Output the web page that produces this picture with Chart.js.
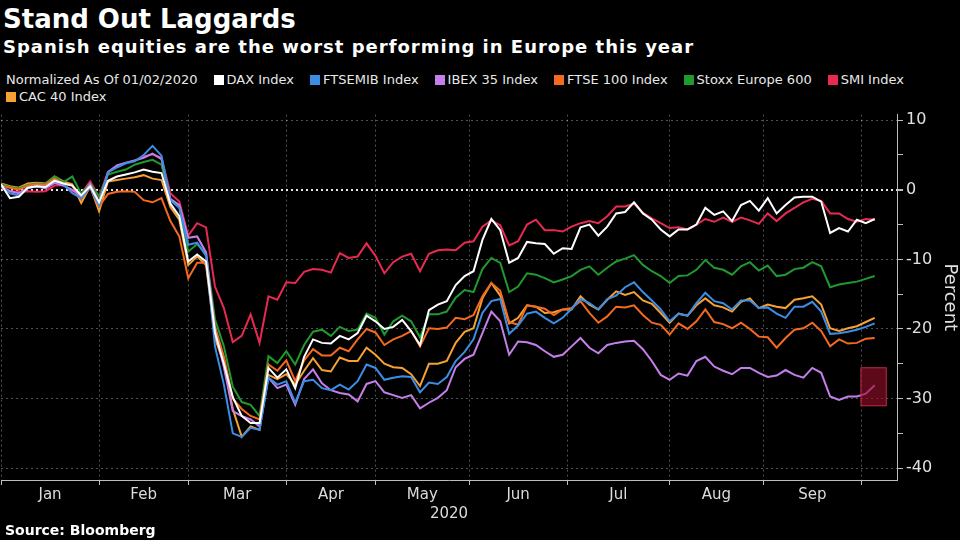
<!DOCTYPE html>
<html>
<head>
<meta charset="utf-8">
<title>Stand Out Laggards</title>
<script src="https://cdn.jsdelivr.net/npm/chart.js@4.4.1/dist/chart.umd.min.js"></script>
<style>
  html, body { margin: 0; padding: 0; background: #000; }
  body { width: 960px; height: 540px; position: relative; overflow: hidden;
         font-family: "DejaVu Sans", sans-serif; color: #fff; }
  #title { position: absolute; left: 3px; top: 4px; font-size: 26px; font-weight: bold; line-height: 30px; }
  #subtitle { position: absolute; left: 3px; top: 36px; font-size: 18px; font-weight: bold; line-height: 22px; letter-spacing: 1px; }
  #legend { position: absolute; left: 6px; top: 71px; width: 940px; font-size: 13px; line-height: 17px; color: #e8e8e8; }
  #legend span { display: inline-block; margin-right: 16px; white-space: nowrap; }
  #legend i { display: inline-block; width: 10px; height: 10px; margin-right: 3px; vertical-align: -1px; }
  #chartBox { position: absolute; left: 0; top: 102px; width: 960px; height: 424px; }
  #source { position: absolute; left: 5px; top: 522px; font-size: 14px; font-weight: bold; line-height: 17px; }
</style>
</head>
<body>
<div id="title">Stand Out Laggards</div>
<div id="subtitle">Spanish equities are the worst performing in Europe this year</div>
<div id="legend"></div>
<div id="chartBox"><canvas id="chart" width="960" height="424"></canvas></div>
<div id="source">Source: Bloomberg</div>
<script>
// trading-day index since 01/02/2020 (every second session)
const tradingDays = [0, 2, 4, 6, 8, 10, 12, 14, 16, 18, 20, 22, 24, 26, 28, 30, 32, 34, 36, 38,
  40, 42, 44, 46, 48, 50, 52, 54, 56, 58, 60, 62, 64, 66, 68, 70, 72, 74, 76, 78,
  80, 82, 84, 86, 88, 90, 92, 94, 96, 98, 100, 102, 104, 106, 108, 110, 112, 114, 116, 118,
  120, 122, 124, 126, 128, 130, 132, 134, 136, 138, 140, 142, 144, 146, 148, 150, 152, 154, 156, 158,
  160, 162, 164, 166, 168, 170, 172, 174, 176, 178, 180, 182, 184, 186, 188, 190, 192, 194, 196];

const daxIndex = [0.8, -1.2, -1.0, 0.3, 0.5, 0.4, 1.3, 0.9, 0.6, -0.8, 0.5, -1.8, 1.3, 1.9, 2.2,
  2.5, 2.9, 2.6, 2.4, -2.0, -3.8, -10.3, -9.3, -10.3,
  -20.5, -25.0, -29.8, -32.5, -33.5, -33.5, -25.6, -27.0, -25.8, -28.5, -24.0,
  -21.5, -22.0, -22.1, -21.0, -21.5, -20.6, -18.1, -18.9, -20.0, -19.7, -18.7, -20.3, -22.3, -17.3, -16.5, -16.0,
  -13.7, -12.4, -11.7, -7.2, -4.2, -5.8, -10.5, -9.8, -7.5, -7.7, -7.8, -9.2, -8.4, -8.5, -5.4, -5.0, -6.6, -5.3, -3.4, -3.2, -1.8,
  -3.4, -4.3, -5.7, -6.7, -5.7, -5.7, -5.0, -2.6, -3.6, -3.1, -4.5, -2.2, -1.6, -3.0, -1.2, -3.4, -2.2, -1.1, -1.0, -1.0, -1.7, -6.2, -5.5, -6.0, -4.3, -4.8, -4.2];

const ftsemibIndex = [0.6, -0.5, -0.8, 0.2, 0.5, 0.4, 1.3, 0.8, -0.5, -1.2, 0.4, -2.2, 2.5, 3.2, 3.8,
  4.1, 5.0, 6.3, 4.9, -1.5, -2.6, -7.9, -7.6, -9.5,
  -22.5, -28.0, -35.0, -35.5, -34.2, -34.5, -27.0, -28.0, -27.5, -30.6, -27.5,
  -27.3, -28.5, -28.8, -28.0, -28.7, -27.5, -25.1, -25.6, -27.3, -27.0, -26.8, -26.9, -29.1, -27.7, -27.9, -26.9,
  -24.6, -23.3, -21.5, -17.7, -16.0, -15.7, -20.7, -19.5, -17.8, -17.5, -18.4, -19.2, -18.4, -17.1, -15.7, -16.3, -17.2, -15.7, -15.2, -14.0, -13.3,
  -14.7, -15.9, -17.2, -18.9, -17.8, -18.1, -16.3, -14.8, -16.0, -16.3, -17.2, -15.9, -15.9, -17.0, -16.9, -17.8, -18.4, -16.8, -16.8, -16.1, -17.5, -20.7, -20.6, -20.4, -20.1, -19.7, -19.2];

const ibexIndex = [0.5, -0.2, -0.5, 0.3, 0.5, 0.2, 1.0, 0.6, 0.0, -0.9, 0.8, -1.8, 2.5, 3.5, 3.9,
  4.2, 4.6, 5.2, 4.4, -1.3, -2.2, -6.9, -6.7, -9.0,
  -20.2, -25.5, -31.8, -32.5, -33.0, -34.0, -27.0, -28.5, -28.0, -30.9, -27.2,
  -25.8, -27.8, -28.8, -29.2, -29.4, -30.4, -27.9, -27.5, -29.1, -29.5, -29.9, -29.5, -31.4, -30.6, -29.9, -28.8,
  -25.5, -24.3, -23.7, -20.6, -17.5, -18.9, -23.7, -21.8, -21.9, -22.3, -23.2, -24.0, -23.7, -22.5, -21.3, -22.7, -23.5, -22.3, -22.0, -21.8, -21.7,
  -22.9, -24.6, -26.6, -27.3, -26.4, -26.7, -24.6, -24.0, -25.4, -26.0, -26.5, -25.6, -25.6, -26.3, -26.9, -26.7, -25.9, -26.6, -27.0, -25.6, -26.3, -29.7, -30.2, -29.7, -29.7, -29.3, -28.1];

const ftseIndex = [0.6, 0.3, 0.0, 0.6, 0.8, 0.7, 1.6, 0.9, 0.6, -1.3, 0.3, -2.4, -0.6, -0.3, -0.2,
  -0.3, -1.5, -1.8, -1.2, -4.5, -6.7, -12.7, -10.5, -10.5,
  -19.6, -24.0, -30.0, -31.5, -32.5, -33.0, -25.1, -26.0, -24.5, -27.5, -24.5,
  -22.9, -23.8, -23.8, -22.7, -23.2, -21.5, -20.0, -20.5, -22.3, -21.5, -21.0, -20.3, -22.5, -19.9, -20.0, -19.8,
  -18.4, -18.6, -18.0, -15.3, -13.4, -14.5, -19.0, -19.4, -16.6, -16.8, -17.1, -18.0, -17.2, -17.0, -16.0, -17.7, -19.1, -18.2, -16.8, -16.9, -16.6,
  -18.0, -19.1, -19.4, -20.8, -19.2, -20.0, -18.9, -17.2, -19.0, -19.3, -19.9, -19.1, -20.0, -21.1, -21.2, -22.7, -21.3, -20.1, -19.9, -19.1, -20.3, -22.5, -21.5, -22.1, -22.0, -21.4, -21.3];

const stoxxIndex = [0.8, 0.4, 0.2, 0.7, 0.9, 0.8, 1.9, 1.1, 1.9, -0.6, 0.9, -1.0, 2.2, 2.6, 2.9,
  3.6, 4.0, 4.3, 3.6, -1.5, -2.5, -8.9, -7.8, -9.2,
  -18.6, -22.5, -28.3, -30.5, -30.9, -32.5, -23.9, -24.9, -23.2, -25.1, -22.3,
  -20.4, -20.1, -21.0, -19.7, -20.3, -20.1, -17.8, -18.4, -20.8, -18.9, -18.1, -18.9, -21.2, -17.9, -17.9, -17.5,
  -15.5, -14.4, -14.7, -11.4, -9.8, -10.5, -14.7, -13.9, -12.0, -12.2, -12.7, -13.3, -12.9, -12.4, -11.5, -11.0, -12.2, -11.2, -10.3, -9.9, -9.4,
  -10.8, -11.7, -12.4, -13.4, -12.4, -12.3, -11.5, -10.1, -11.2, -11.5, -12.2, -11.0, -10.4, -11.6, -10.9, -12.4, -12.2, -11.4, -11.2, -10.4, -11.0, -14.0, -13.6, -13.4, -13.2, -12.8, -12.4];

const smiIndex = [0.3, -0.2, -0.3, -0.2, -0.3, -0.2, 0.6, 0.7, -0.2, -0.6, 1.2, -1.0, 2.6, 3.4, 3.8,
  4.2, 4.8, 5.1, 4.6, -0.5, -1.7, -6.6, -4.8, -5.4,
  -13.9, -17.0, -21.9, -21.0, -17.9, -22.0, -15.3, -15.8, -13.3, -13.4, -11.8,
  -11.4, -11.5, -11.9, -9.1, -9.8, -9.6, -7.7, -9.5, -12.0, -10.4, -9.6, -9.2, -11.7, -9.2, -8.7, -8.6,
  -8.7, -7.6, -7.4, -5.3, -4.4, -5.1, -8.0, -7.4, -5.0, -4.3, -5.8, -5.8, -6.0, -5.3, -4.8, -4.5, -4.8, -3.8, -2.4, -2.4, -2.0,
  -3.3, -4.1, -4.8, -5.5, -5.4, -5.7, -5.0, -4.2, -4.6, -4.0, -4.6, -4.0, -4.4, -4.9, -3.4, -4.5, -3.4, -2.6, -1.8, -1.3, -1.6, -3.4, -3.4, -4.2, -4.6, -4.2, -4.3];

const cacIndex = [0.9, 0.5, 0.3, 0.9, 1.0, 0.9, 1.9, 1.2, 0.8, -1.9, 0.5, -3.1, 1.2, 1.4, 1.6,
  1.8, 2.1, 1.6, 1.4, -2.5, -4.3, -10.8, -9.6, -10.8,
  -21.3, -25.0, -31.5, -35.5, -34.0, -34.5, -26.6, -27.2, -26.5, -28.0, -26.0,
  -24.2, -25.9, -26.1, -24.1, -24.6, -24.6, -22.7, -23.7, -25.0, -25.5, -25.6, -26.5, -28.2, -25.0, -25.0, -24.6,
  -22.0, -20.4, -19.9, -15.6, -13.4, -15.2, -19.2, -18.4, -16.6, -16.8, -17.7, -17.6, -17.2, -17.2, -15.3, -16.5, -17.2, -15.8, -14.6, -15.1, -14.7,
  -15.9, -16.4, -17.7, -19.1, -17.8, -18.1, -16.6, -15.6, -16.6, -16.9, -17.5, -16.1, -15.6, -17.0, -16.5, -16.8, -17.0, -15.8, -15.6, -15.3, -16.5, -19.9, -20.3, -19.9, -19.6, -19.0, -18.4];

const seriesNames = ['DAX Index', 'FTSEMIB Index', 'IBEX 35 Index', 'FTSE 100 Index', 'Stoxx Europe 600', 'SMI Index', 'CAC 40 Index'];
const seriesValues = [daxIndex, ftsemibIndex, ibexIndex, ftseIndex, stoxxIndex, smiIndex, cacIndex];
const seriesColors = ['#ffffff', '#3b8de6', '#c57fea', '#f46a1e', '#20992f', '#e82a50', '#f6a133'];

// month boundaries / label positions on the trading-day axis
const monthStarts = [0, 22, 42, 64, 84, 105, 127, 150, 171, 193];
const monthMids = [11, 32, 53, 74, 94.5, 116, 138.5, 160.5, 182];
const monthLabels = ['Jan', 'Feb', 'Mar', 'Apr', 'May', 'Jun', 'Jul', 'Aug', 'Sep'];
const yTicks = [-40, -35, -30, -25, -20, -15, -10, -5, 0, 5, 10];

// highlighted latest IBEX move
const boxDays = [192.8, 198.7];
const boxRange = [-25.5, -31.1];

// legend: note first, then one item per series, CAC wraps to the second row
const legend = document.getElementById('legend');
legend.innerHTML = '<span>Normalized As Of 01/02/2020</span>' +
  seriesNames.map((name, i) => `<span><i style="background:${seriesColors[i]}"></i>${name}</span>`).join('');

const highlightBox = {
  id: 'highlightBox',
  afterDatasetsDraw(chart) {
    const { ctx, scales: { x, y } } = chart;
    const x0 = x.getPixelForValue(boxDays[0]);
    const x1 = x.getPixelForValue(boxDays[1]);
    const y0 = y.getPixelForValue(boxRange[0]);
    const y1 = y.getPixelForValue(boxRange[1]);
    ctx.save();
    ctx.fillStyle = 'rgba(150, 14, 42, 0.62)';
    ctx.strokeStyle = 'rgba(200, 50, 80, 0.8)';
    ctx.lineWidth = 1;
    ctx.fillRect(x0, y0, x1 - x0, y1 - y0);
    ctx.strokeRect(x0 + 0.5, y0 + 0.5, x1 - x0 - 1, y1 - y0 - 1);
    ctx.restore();
  }
};

Chart.defaults.font.family = '"DejaVu Sans", sans-serif';
Chart.defaults.color = '#e0e0e0';

const isStart = v => monthStarts.includes(v);

new Chart(document.getElementById('chart').getContext('2d'), {
  type: 'line',
  data: {
    datasets: seriesNames.map((name, i) => ({
      label: name,
      data: tradingDays.map((d, j) => ({ x: d, y: seriesValues[i][j] })),
      borderColor: seriesColors[i],
      backgroundColor: seriesColors[i],
      borderWidth: 2,
      pointRadius: 0,
      tension: 0
    }))
  },
  options: {
    responsive: false,
    devicePixelRatio: 1,
    animation: false,
    layout: { padding: { top: 8, left: 0, right: 0, bottom: 0 } },
    plugins: { legend: { display: false }, tooltip: { enabled: false } },
    scales: {
      x: {
        type: 'linear',
        position: 'bottom',
        min: 0,
        max: 201,
        afterBuildTicks: s => {
          s.ticks = monthStarts.concat(monthMids).sort((a, b) => a - b).map(v => ({ value: v }));
        },
        afterFit: s => { s.height = 46; },
        ticks: {
          autoSkip: false,
          maxRotation: 0,
          padding: 1,
          color: '#dcdcdc',
          font: { size: 15 },
          callback: v => {
            const k = monthMids.indexOf(v);
            return k >= 0 ? monthLabels[k] : '';
          }
        },
        grid: {
          color: c => (c.tick && isStart(c.tick.value)) ? 'rgba(255,255,255,0.32)' : 'rgba(0,0,0,0)',
          tickColor: c => (c.tick && isStart(c.tick.value)) ? '#bdbdbd' : 'rgba(0,0,0,0)',
          tickLength: 5,
          lineWidth: 1
        },
        border: { display: true, color: '#bdbdbd', width: 1, dash: [2, 3] },
        title: { display: true, text: '2020', color: '#dcdcdc', font: { size: 15 }, padding: { top: 0, bottom: 3 } }
      },
      y: {
        position: 'right',
        min: -41.7,
        max: 10.8,
        afterBuildTicks: s => { s.ticks = yTicks.map(v => ({ value: v })); },
        afterFit: s => { s.width = 63; },
        ticks: {
          autoSkip: false,
          padding: 3,
          color: '#e0e0e0',
          font: { size: 16 },
          callback: v => (v % 10 === 0 ? String(v) : '')
        },
        grid: {
          color: c => {
            if (!c.tick) return 'rgba(0,0,0,0)';
            if (c.tick.value === 0) return '#e6e6e6';
            return c.tick.value % 10 === 0 ? 'rgba(255,255,255,0.32)' : 'rgba(0,0,0,0)';
          },
          lineWidth: c => (c.tick && c.tick.value === 0 ? 2 : 1),
          tickColor: '#bdbdbd',
          tickLength: 6
        },
        border: { display: true, color: '#bdbdbd', width: 1, dash: [2, 3] },
        title: { display: true, text: 'Percent', color: '#e0e0e0', font: { size: 18 }, padding: { top: 0, bottom: 2 } }
      }
    }
  },
  plugins: [highlightBox]
});
</script>
</body>
</html>
